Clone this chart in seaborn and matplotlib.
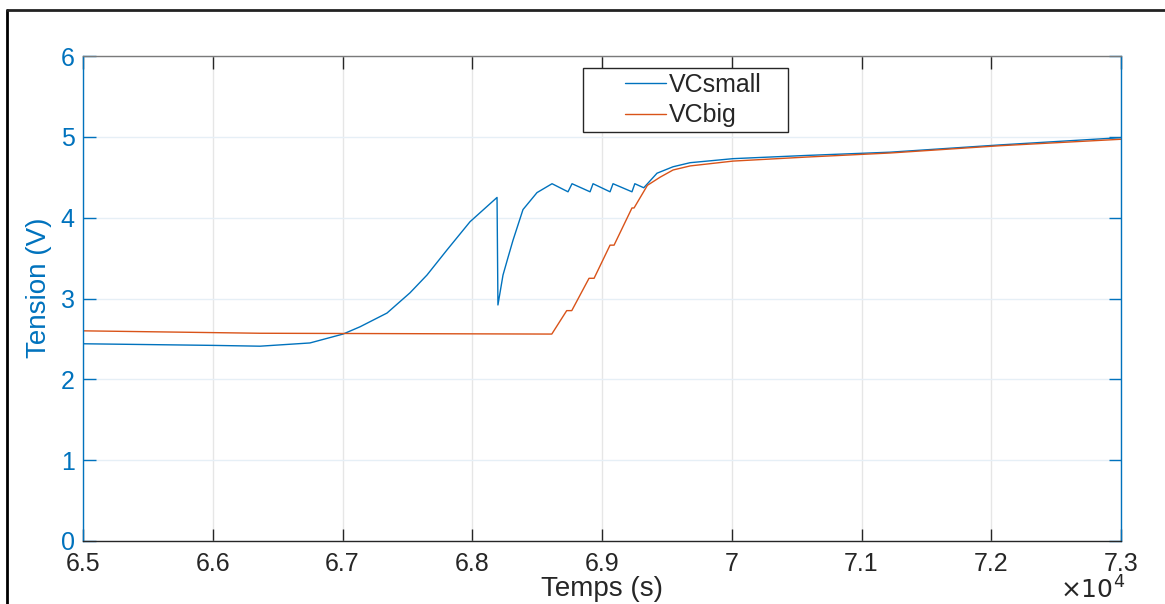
import matplotlib.pyplot as plt
import matplotlib.ticker as mticker
from matplotlib.lines import Line2D
from matplotlib.legend_handler import HandlerLine2D
import seaborn as sns
import pandas as pd

# VCsmall (blue)
t_small = [65000, 65500, 66000, 66364, 66749, 67004, 67135, 67343, 67520, 67651,
           67805, 67983, 68191, 68198, 68237, 68276, 68314, 68391, 68499, 68615,
           68738, 68769, 68908, 68931, 69062, 69085, 69231, 69253, 69322, 69424,
           69548, 69679, 70010, 70580, 71220, 72067, 73000]
v_small = [2.44, 2.43, 2.42, 2.41, 2.45, 2.56, 2.65, 2.82, 3.07, 3.29,
           3.60, 3.95, 4.25, 2.92, 3.29, 3.51, 3.72, 4.10, 4.31, 4.42,
           4.32, 4.42, 4.32, 4.42, 4.32, 4.42, 4.32, 4.42, 4.37, 4.55,
           4.63, 4.68, 4.73, 4.77, 4.81, 4.90, 4.99]

# VCbig (orange)
t_big = [65000, 66364, 68613, 68728, 68767, 68900, 68939, 69062, 69093, 69231,
         69247, 69350, 69447, 69548, 69679, 70010, 70580, 71220, 72067, 73000]
v_big = [2.60, 2.57, 2.56, 2.85, 2.85, 3.25, 3.25, 3.66, 3.66, 4.12,
         4.12, 4.40, 4.50, 4.59, 4.64, 4.70, 4.75, 4.80, 4.89, 4.97]

series_names = ['VCsmall', 'VCbig']
x_ticks = [65000, 66000, 67000, 68000, 69000, 70000, 71000, 72000, 73000]
y_ticks = [0, 1, 2, 3, 4, 5, 6]

df = pd.concat([
    pd.DataFrame({'t': t_small, 'v': v_small, 'serie': series_names[0]}),
    pd.DataFrame({'t': t_big, 'v': v_big, 'serie': series_names[1]}),
], ignore_index=True)

sns.set_style('white')
plt.rcParams['font.family'] = ['Liberation Sans', 'DejaVu Sans']

blue = '#0072BD'
orange = '#D95319'
dark = '#262626'


class RightLineHandler(HandlerLine2D):
    # MATLAB style legend: short line sitting on the right of the handle box
    def create_artists(self, legend, orig_handle, xdescent, ydescent, width,
                       height, fontsize, trans):
        arts = super().create_artists(legend, orig_handle, xdescent, ydescent,
                                      width, height, fontsize, trans)
        xd = arts[0].get_xdata()
        yd = arts[0].get_ydata()
        arts[0].set_data([xd[0] + 0.48 * (xd[-1] - xd[0]), xd[-1]], [yd[0], yd[0]])
        return arts


fig = plt.figure(figsize=(11.65, 6.04), dpi=100)
ax = fig.add_axes([83/1165, 63/604, 1038/1165, 485/604])

sns.lineplot(data=df, x='t', y='v', hue='serie', palette=[blue, orange],
             estimator=None, sort=False, lw=1.0, ax=ax, legend=False)

ax.set_xlim(65000, 73000)
ax.set_ylim(0, 6)
ax.set_xticks(x_ticks)
ax.set_yticks(y_ticks)
ax.xaxis.set_major_formatter(mticker.FuncFormatter(lambda v, p: f'{v/1e4:g}'))

ax.grid(True, axis='x', color='#e6e6e6', lw=1)
ax.grid(True, axis='y', color='#e6eff6', lw=1)
ax.set_axisbelow(True)

ax.tick_params(axis='x', direction='in', length=9, width=1, colors=dark,
               labelsize=18, pad=8, top=True, bottom=True)
ax.tick_params(axis='y', direction='in', length=9, width=1, colors=blue,
               labelsize=18, pad=6, left=True, right=True)

for side in ['left', 'right']:
    ax.spines[side].set_color(blue)
ax.spines['bottom'].set_color(dark)
ax.spines['top'].set_color('#7a7a7a')
for s in ax.spines.values():
    s.set_linewidth(1)

ax.set_xlabel('Temps (s)', fontsize=20, color=dark, labelpad=0)
ax.set_ylabel('Tension (V)', fontsize=20, color=blue)
ax.yaxis.set_label_coords(-0.03, 0.522)

handles = [Line2D([], [], color=blue, lw=1.0), Line2D([], [], color=orange, lw=1.0)]
leg = ax.legend(handles, series_names, loc='upper left',
                bbox_to_anchor=(0.4817, 0.975 - 0.13, 205/1038, 0.13), mode='expand',
                fontsize=18, frameon=True, fancybox=False, framealpha=1,
                edgecolor=dark, handlelength=3.1, handletextpad=0.12,
                borderpad=0.2, labelspacing=0.25, borderaxespad=0,
                handler_map={Line2D: RightLineHandler()})
leg.get_frame().set_linewidth(1)

fig.text(1093/1165, 1 - 590/604, r'$\times10^{4}$', fontsize=18, color=dark,
         ha='center', va='center')

# outer frame
fig.add_artist(Line2D([7/1165, 7/1165], [0, 1 - 10/604], transform=fig.transFigure,
                      color='black', lw=2))
fig.add_artist(Line2D([7/1165, 1], [1 - 10/604, 1 - 10/604], transform=fig.transFigure,
                      color='#222222', lw=2))

plt.savefig('out.png', dpi=100)
